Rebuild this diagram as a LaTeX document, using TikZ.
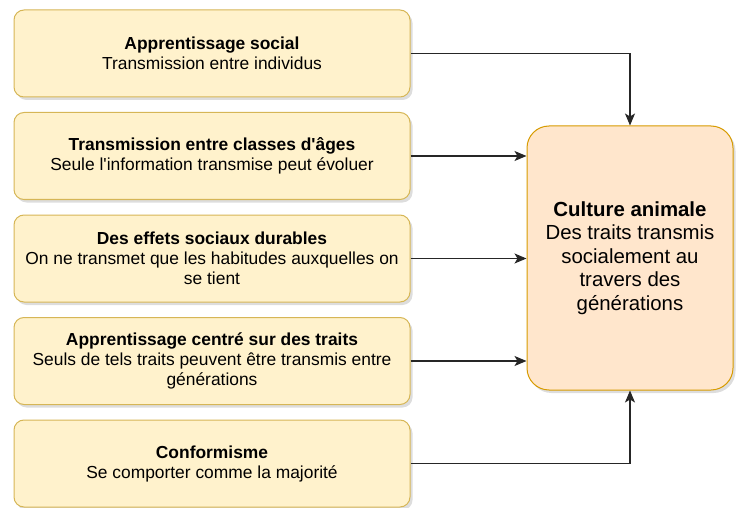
\documentclass[tikz,border=0pt]{standalone}
\usepackage{fontspec}
\setmainfont{Liberation Sans}
\usetikzlibrary{arrows.meta,shadows}
\definecolor{ybox}{HTML}{FFF2CC}
\definecolor{yline}{HTML}{D6B656}
\definecolor{obox}{HTML}{FFE6CC}
\definecolor{oline}{HTML}{D79B00}
\tikzset{
  srcbox/.style={draw=yline, fill=ybox, rounded corners=10pt, line width=1pt,
    minimum width=396pt, minimum height=87pt, align=center, inner sep=0pt,
    font=\fontsize{17.4pt}{20pt}\selectfont,
    drop shadow={shadow xshift=2.5pt, shadow yshift=-3pt, opacity=0.22, fill=black!60}},
  tgtbox/.style={draw=oline, fill=obox, rounded corners=22pt, line width=1pt,
    minimum width=206pt, minimum height=264pt, align=center, inner sep=0pt,
    font=\fontsize{20.4pt}{23.5pt}\selectfont,
    drop shadow={shadow xshift=2.5pt, shadow yshift=-3pt, opacity=0.22, fill=black!60}},
  conn/.style={draw=black!85, line width=1.1pt, -{Stealth[length=12pt,width=10pt,inset=3pt]}}
}
\begin{document}
\begin{tikzpicture}[x=1pt,y=-1pt]
\useasboundingbox (0,0) rectangle (742,508);
\node[srcbox] (b1) at (212,53.5) {\textbf{Apprentissage social}\\Transmission entre individus};
\node[srcbox] (b2) at (212,156) {\textbf{Transmission entre classes d\textquotesingle âges}\\Seule l\textquotesingle information transmise peut évoluer};
\node[srcbox] (b3) at (212,258.5) {\textbf{Des effets sociaux durables}\\On ne transmet que les habitudes auxquelles on\\se tient};
\node[srcbox] (b4) at (212,361) {\textbf{Apprentissage centré sur des traits}\\Seuls de tels traits peuvent être transmis entre\\générations};
\node[srcbox] (b5) at (212,463.5) {\textbf{Conformisme}\\Se comporter comme la majorité};
\node[tgtbox] (c) at (630,258) {\textbf{Culture animale}\\Des traits transmis\\socialement au\\travers des\\générations};
\draw[conn] (b1.east) -| (c.north);
\draw[conn] (b2.east) -- (b2.east -| c.west);
\draw[conn] (b3.east) -- (b3.east -| c.west);
\draw[conn] (b4.east) -- (b4.east -| c.west);
\draw[conn] (b5.east) -| (c.south);
\end{tikzpicture}
\end{document}
